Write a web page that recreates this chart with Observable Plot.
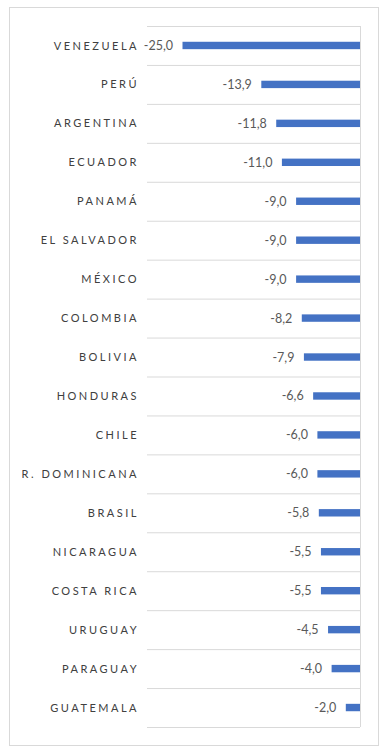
<!DOCTYPE html>
<html>
<head>
<meta charset="utf-8">
<script src="https://cdn.jsdelivr.net/npm/d3@7"></script>
<script src="https://cdn.jsdelivr.net/npm/@observablehq/plot@0.6"></script>
<style>
  html, body { margin: 0; padding: 0; background: #fff; }
  #wrap { position: relative; width: 385px; height: 754px; }
  #border { position: absolute; left: 9px; top: 7px; width: 370px; height: 739px; border: 1px solid #d9d9d9; box-sizing: border-box; }
  #chart { position: absolute; left: 0; top: 0; }
  #chart g[aria-label="y-axis tick label"] text { letter-spacing: 2.5px; }
</style>
</head>
<body>
<div id="wrap">
  <div id="border"></div>
  <div id="chart"></div>
</div>
<script>
const countries = ["VENEZUELA","PERÚ","ARGENTINA","ECUADOR","PANAMÁ","EL SALVADOR","MÉXICO","COLOMBIA","BOLIVIA","HONDURAS","CHILE","R. DOMINICANA","BRASIL","NICARAGUA","COSTA RICA","URUGUAY","PARAGUAY","GUATEMALA"];
const values = [-25.0,-13.9,-11.8,-11.0,-9.0,-9.0,-9.0,-8.2,-7.9,-6.6,-6.0,-6.0,-5.8,-5.5,-5.5,-4.5,-4.0,-2.0];
const xDomain = [-30, 0];

const data = countries.map((c, i) => ({country: c, value: values[i]}));
const fmt = v => v.toFixed(1).replace(".", ",");

const W = 385, H = 754;
const mTop = 26, mBottom = 27, mLeft = 147, mRight = 25;
const step = (H - mTop - mBottom) / countries.length;
const pad = 0.81;

const plot = Plot.plot({
  width: W,
  height: H,
  marginTop: mTop,
  marginBottom: mBottom,
  marginLeft: mLeft,
  marginRight: mRight,
  style: {fontFamily: "Lato, 'Open Sans', sans-serif", background: "transparent"},
  x: {domain: xDomain, axis: null},
  y: {domain: countries, paddingInner: pad, paddingOuter: pad / 2, round: false, label: null},
  marks: [
    Plot.ruleY(countries, {y: d => d, dy: step / 2, stroke: "#d9d9d9", strokeWidth: 1}),
    Plot.ruleY(countries.slice(0, 1), {y: d => d, dy: -step / 2, stroke: "#d9d9d9", strokeWidth: 1}),
    Plot.ruleX([0], {stroke: "#d9d9d9", strokeWidth: 1}),
    Plot.barX(data, {y: "country", x: "value", fill: "#4472c4"}),
    Plot.text(data, {y: "country", x: "value", text: d => fmt(d.value), textAnchor: "end", dx: -10, fill: "#595959", fontSize: 12.5}),
    Plot.axisY({tickSize: 0, tickPadding: 8.5, fontSize: 11, color: "#404040", label: null})
  ]
});
document.getElementById("chart").appendChild(plot);
</script>
</body>
</html>
